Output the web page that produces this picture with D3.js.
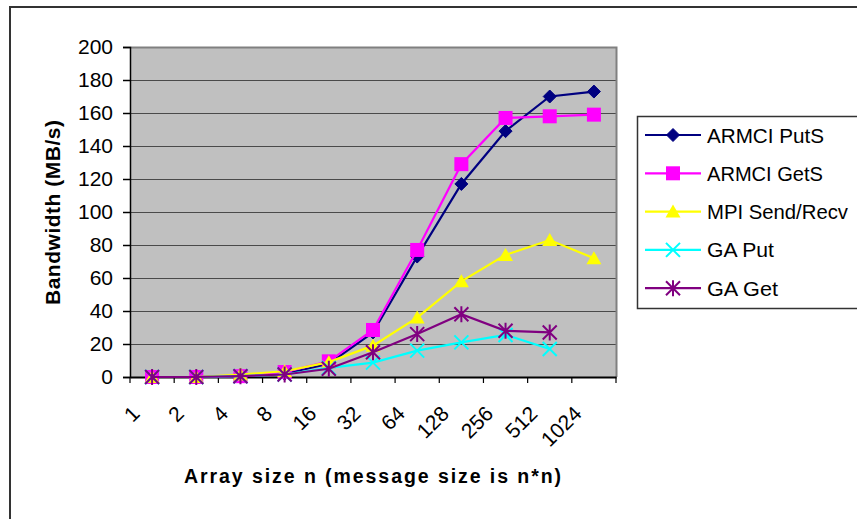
<!DOCTYPE html>
<html>
<head>
<meta charset="utf-8">
<script src="https://cdn.jsdelivr.net/npm/d3@7"></script>
<style>
  html, body { margin: 0; padding: 0; background: #fff; }
  svg { display: block; font-family: "Liberation Sans", Arial, sans-serif; }
</style>
</head>
<body>
<svg id="chart" width="857" height="519"></svg>
<script>
// Array sizes (n) along the x axis
const categories = ["1", "2", "4", "8", "16", "32", "64", "128", "256", "512", "1024"];
const yTicks = [0, 20, 40, 60, 80, 100, 120, 140, 160, 180, 200];

// Bandwidth in MB/s for each array size
const armciPutS   = [0, 0, 0.5, 2, 8, 27, 73, 117, 149, 170, 173];
const armciGetS   = [0, 0, 0.5, 3, 9.5, 28.5, 77, 129, 157, 158, 159];
const mpiSendRecv = [0, 0, 1.5, 3.5, 9, 19, 36, 58, 74, 83, 72];
const gaPut       = [0, 0, 0.5, 1.5, 5.5, 8.7, 16, 21, 25.5, 17];
const gaGet       = [0, 0, 0.5, 1.5, 5, 15, 26, 38, 28, 27];

const seriesNames = ["ARMCI PutS", "ARMCI GetS", "MPI Send/Recv", "GA Put", "GA Get"];
const seriesValues = [armciPutS, armciGetS, mpiSendRecv, gaPut, gaGet];
const seriesColors = ["#000080", "#FF00FF", "#FFFF00", "#00FFFF", "#800080"];
const seriesMarkers = ["diamond", "square", "triangle", "x", "star"];
const legendWidths = [117, 116, 141, 67, 71];

const svg = d3.select("#chart");
const plot = { left: 130, right: 616, top: 47, bottom: 377 };

const x = d3.scaleBand().domain(categories).range([plot.left, plot.right]).padding(0);
const y = d3.scaleLinear().domain([0, 200]).range([plot.bottom, plot.top]);

// outer chart frame
svg.append("rect")
  .attr("x", 10).attr("y", 7).attr("width", 900).attr("height", 600)
  .attr("fill", "none").attr("stroke", "#333").attr("stroke-width", 2);

// plot area background
svg.append("rect")
  .attr("x", plot.left).attr("y", plot.top)
  .attr("width", plot.right - plot.left).attr("height", plot.bottom - plot.top)
  .attr("fill", "#C0C0C0");

// horizontal gridlines
svg.append("g").selectAll("line")
  .data(yTicks.filter(d => d > 0))
  .join("line")
  .attr("x1", plot.left).attr("x2", plot.right)
  .attr("y1", d => Math.round(y(d)) + 0.5).attr("y2", d => Math.round(y(d)) + 0.5)
  .attr("stroke", "#4a4a4a").attr("stroke-width", 1.2);

// plot border top / right
svg.append("path")
  .attr("d", `M${plot.left},${plot.top + 0.5}H${plot.right + 0.5}V${plot.bottom}`)
  .attr("fill", "none").attr("stroke", "#808080").attr("stroke-width", 2);

// y axis
const yAxis = svg.append("g")
  .attr("transform", `translate(${plot.left},0)`)
  .call(d3.axisLeft(y).tickValues(yTicks).tickSize(7).tickPadding(10));
yAxis.selectAll("text")
  .attr("font-size", 21).attr("fill", "#000")
  .attr("font-family", "Liberation Sans, Arial, sans-serif");
yAxis.selectAll("line, path").attr("stroke", "#000").attr("stroke-width", 1.5);

// x axis line with tick marks on category boundaries
const xAxis = svg.append("g")
  .attr("transform", `translate(0,${plot.bottom})`)
  .call(d3.axisBottom(x).tickSize(0).tickFormat(""));
xAxis.select("path").attr("stroke", "#000").attr("stroke-width", 2);
const bounds = categories.map(c => x(c)).concat([x(categories[categories.length - 1]) + x.bandwidth()]);
xAxis.append("g").selectAll("line")
  .data(bounds)
  .join("line")
  .attr("x1", d => d).attr("x2", d => d)
  .attr("y1", 0).attr("y2", 6)
  .attr("stroke", "#000").attr("stroke-width", 1.2);

// rotated category labels
svg.append("g").selectAll("text")
  .data(categories)
  .join("text")
  .attr("transform", d => `translate(${x(d) + x.bandwidth() / 2 - 11},415) rotate(-45)`)
  .attr("text-anchor", "end")
  .attr("font-size", 21)
  .attr("fill", "#000")
  .text(d => d);

// axis titles
svg.append("text")
  .attr("x", 372.5).attr("y", 483)
  .attr("text-anchor", "middle")
  .attr("font-size", 19.5).attr("font-weight", "bold")
  .attr("textLength", 377)
  .text("Array size n (message size is n*n)");

svg.append("text")
  .attr("transform", "translate(59.5,212.5) rotate(-90)")
  .attr("text-anchor", "middle")
  .attr("font-size", 21).attr("font-weight", "bold")
  .attr("textLength", 185)
  .text("Bandwidth (MB/s)");

// marker drawing
function drawMarker(g, type, color) {
  if (type === "diamond") {
    g.append("path").attr("d", "M0,-6.5L6.5,0L0,6.5L-6.5,0Z").attr("fill", color).attr("stroke", color);
  } else if (type === "square") {
    g.append("rect").attr("x", -7).attr("y", -7).attr("width", 14).attr("height", 14)
      .attr("fill", color).attr("stroke", "none");
  } else if (type === "triangle") {
    g.append("path").attr("d", "M0,-7L7.5,6L-7.5,6Z").attr("fill", color).attr("stroke", "none");
  } else if (type === "x") {
    g.append("path").attr("d", "M-7,-7L7,7M7,-7L-7,7").attr("stroke", color).attr("stroke-width", 2).attr("fill", "none");
  } else if (type === "star") {
    g.append("path").attr("d", "M-7,-7L7,7M7,-7L-7,7M0,-8V8").attr("stroke", color).attr("stroke-width", 2).attr("fill", "none");
  }
}

const line = d3.line()
  .x((d, i) => x(categories[i]) + x.bandwidth() / 2)
  .y(d => y(d));

seriesValues.forEach((vals, s) => {
  const g = svg.append("g");
  g.append("path")
    .attr("d", line(vals))
    .attr("fill", "none")
    .attr("stroke", seriesColors[s])
    .attr("stroke-width", 2.2);
  vals.forEach((v, i) => {
    const m = g.append("g")
      .attr("transform", `translate(${x(categories[i]) + x.bandwidth() / 2},${y(v)})`);
    drawMarker(m, seriesMarkers[s], seriesColors[s]);
  });
});

// legend
const legend = svg.append("g");
legend.append("rect")
  .attr("x", 637.5).attr("y", 116.5).attr("width", 240).attr("height", 192)
  .attr("fill", "#fff").attr("stroke", "#333").attr("stroke-width", 1.5);
seriesNames.forEach((name, s) => {
  const cy = 135 + s * 38.3;
  const row = legend.append("g");
  row.append("line")
    .attr("x1", 645).attr("x2", 701).attr("y1", cy).attr("y2", cy)
    .attr("stroke", seriesColors[s]).attr("stroke-width", 2.2);
  const m = row.append("g").attr("transform", `translate(673,${cy})`);
  drawMarker(m, seriesMarkers[s], seriesColors[s]);
  row.append("text")
    .attr("x", 707).attr("y", cy + 7.5)
    .attr("font-size", 21)
    .attr("textLength", legendWidths[s])
    .attr("lengthAdjust", "spacingAndGlyphs")
    .attr("fill", "#000")
    .text(name);
});
</script>
</body>
</html>
